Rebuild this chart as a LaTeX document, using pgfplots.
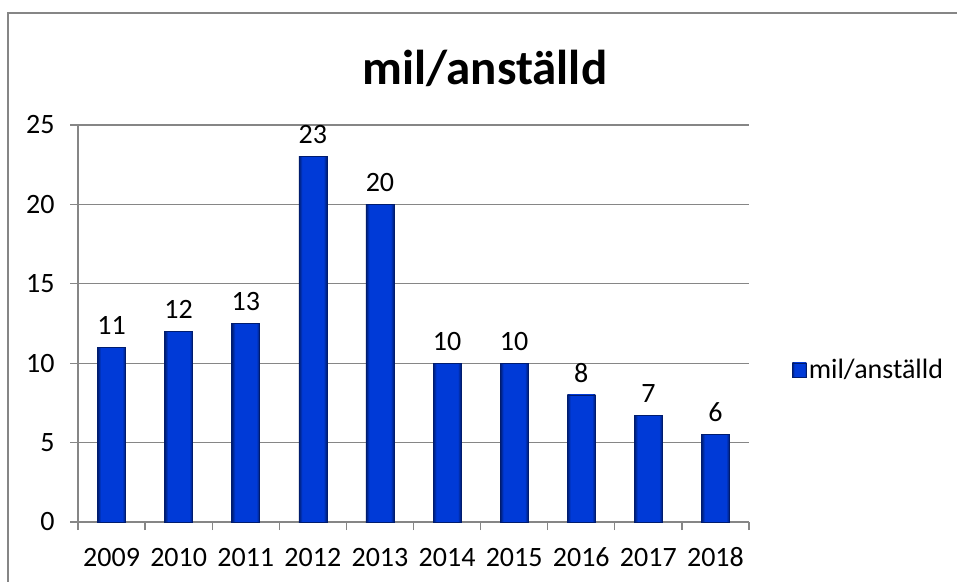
\documentclass[border=0pt]{standalone}
\usepackage{fontspec}
\setmainfont{Carlito}
\usepackage{pgfplots}
\pgfplotsset{compat=1.18}
\definecolor{gridgray}{RGB}{134,134,134}
\definecolor{bardark}{RGB}{0,28,110}
\definecolor{barmid}{RGB}{0,58,215}
\pgfdeclarehorizontalshading{barshade}{100bp}{color(0bp)=(bardark); color(25bp)=(bardark); color(31bp)=(barmid); color(69bp)=(barmid); color(75bp)=(bardark); color(100bp)=(bardark)}
\pgfplotsset{
  mybar/.style={ybar, bar width=28pt, bar shift=0pt, draw=bardark, line width=0.6pt,
    shading=barshade,
    nodes near coords, point meta=explicit symbolic,
    nodes near coords style={font=\fontsize{28}{33}\selectfont, text=black, yshift=9pt}},
}
\begin{document}
\begin{tikzpicture}[x=1pt,y=1pt]
\begin{axis}[
  at={(78pt,59pt)}, anchor=south west,
  scale only axis, width=671pt, height=397pt,
  xmin=-0.5, xmax=9.5, ymin=0, ymax=25,
  ytick={0,5,10,15,20,25},
  xtick={-0.5,0.5,1.5,2.5,3.5,4.5,5.5,6.5,7.5,8.5,9.5},
  xticklabels={2009,2010,2011,2012,2013,2014,2015,2016,2017,2018,{}},
  xticklabel style={xshift=33.55pt, yshift=-14pt, text height=19pt, text depth=0pt},
  yticklabel style={xshift=-12pt},
  /pgf/number format/assume math mode=true,
  ticklabel style={font=\fontsize{28}{33}\selectfont, text=black},
  axis x line*=bottom, axis y line*=left,
  axis line style={gridgray, line width=1.3pt},
  tick align=outside, major tick length=8pt,
  tick style={gridgray, line width=1.3pt},
  ymajorgrids, major grid style={gridgray, line width=1.3pt},
  legend style={at={(axis description cs:1.064,0.383)}, anchor=west, draw=none, fill=none,
    font=\fontsize{28}{33}\selectfont, inner xsep=0pt, nodes={inner xsep=2pt}},
  legend image code/.code={\draw[bardark, line width=0.6pt, shading=barshade] (0pt,-7pt) rectangle (14pt,7pt);},
]
\addplot[mybar] table[meta=lab] {
x y lab
0 11 11
};
\addlegendentry{mil/anställd}
\addplot[mybar, forget plot] table[meta=lab] {
x y lab
1 12 12
};
\addplot[mybar, forget plot] table[meta=lab] {
x y lab
2 12.5 13
};
\addplot[mybar, forget plot] table[meta=lab] {
x y lab
3 23 23
};
\addplot[mybar, forget plot] table[meta=lab] {
x y lab
4 20 20
};
\addplot[mybar, forget plot] table[meta=lab] {
x y lab
5 10 10
};
\addplot[mybar, forget plot] table[meta=lab] {
x y lab
6 10 10
};
\addplot[mybar, forget plot] table[meta=lab] {
x y lab
7 8 8
};
\addplot[mybar, forget plot] table[meta=lab] {
x y lab
8 6.7 7
};
\addplot[mybar, forget plot] table[meta=lab] {
x y lab
9 5.5 6
};
\end{axis}
\node[font=\bfseries\fontsize{49}{59}\selectfont, anchor=base] at (485,496) {mil/anställd};
\draw[gridgray, line width=1.5pt] (8,-20) -- (8,568) -- (990,568);
\pgfresetboundingbox
\useasboundingbox (0,0) rectangle (957,581);
\end{tikzpicture}
\end{document}
